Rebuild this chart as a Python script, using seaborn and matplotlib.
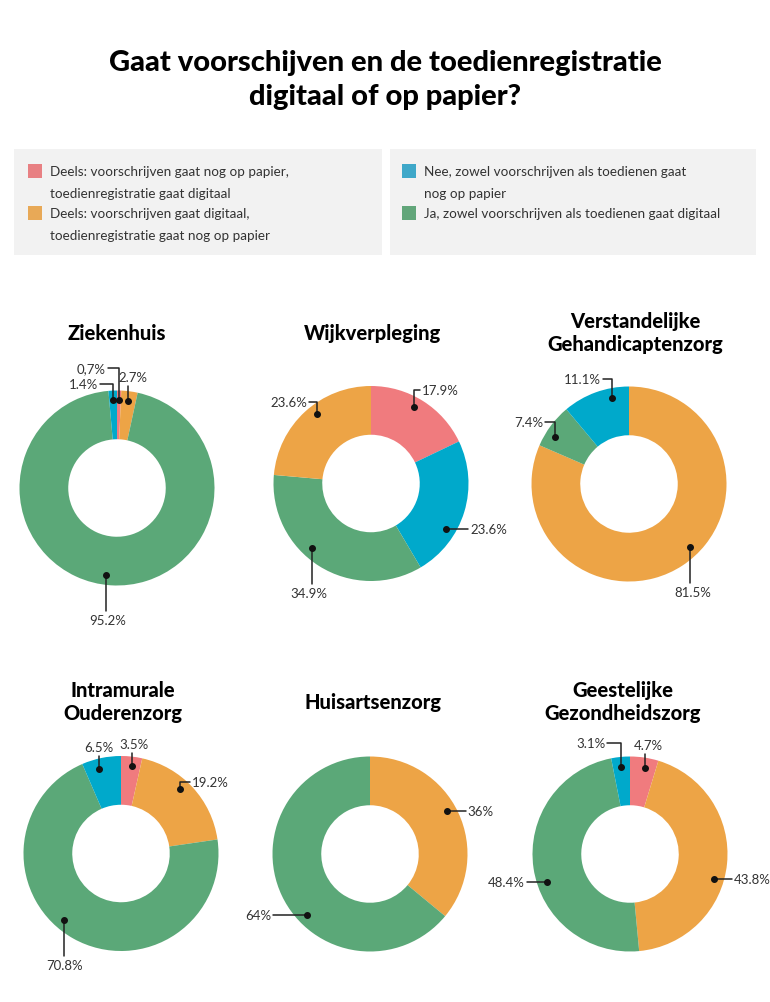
import numpy as np
import matplotlib
matplotlib.use("Agg")
import matplotlib.pyplot as plt
from matplotlib.patches import Rectangle
import seaborn as sns

sns.set_theme(style="white")
plt.rcParams['font.family'] = ['Lato', 'DejaVu Sans']

# legend categories (same order as the series below)
categories = [
    "Deels: voorschrijven gaat nog op papier,\ntoedienregistratie gaat digitaal",
    "Deels: voorschrijven gaat digitaal,\ntoedienregistratie gaat nog op papier",
    "Nee, zowel voorschrijven als toedienen gaat\nnog op papier",
    "Ja, zowel voorschrijven als toedienen gaat digitaal",
]
sectors = ["Ziekenhuis", "Wijkverpleging", "Verstandelijke\nGehandicaptenzorg",
           "Intramurale\nOuderenzorg", "Huisartsenzorg", "Geestelijke\nGezondheidszorg"]

# percentages per sector
deels_papier = [0.7, 17.9, 0, 3.5, 0, 4.7]        # pink
deels_digitaal = [2.7, 23.6, 81.5, 19.2, 36, 43.8]  # orange
nee_papier = [1.4, 23.6, 11.1, 6.5, 0, 3.1]       # blue
ja_digitaal = [95.2, 34.9, 7.4, 70.8, 64, 48.4]   # green
series = [deels_papier, deels_digitaal, nee_papier, ja_digitaal]

# slice order clockwise from 12 o'clock (index into series)
slice_order = [[0, 1, 3, 2], [0, 2, 3, 1], [0, 1, 3, 2],
               [0, 1, 3, 2], [0, 1, 3, 2], [0, 1, 3, 2]]

colors = sns.color_palette(["#F07B7E", "#EDA446", "#00A9CB", "#5BA878"])
legend_colors = sns.color_palette(["#E88083", "#E8A957", "#3FA8C9", "#62A67A"])

# layout (pixels)
centers = [(117, 489), (371, 484.5), (629, 485), (121, 854.5), (370, 855), (630, 855)]
title_pos = [(117, 333), (373, 333), (635, 333), (123, 702), (373, 702), (623, 702)]
R = 97.5
# per label: angle nudge (deg), horizontal leg, vertical leg, text shift
label_layout = [
    {0: (0, -11, -32, 0), 1: (0, 0, -15, 5), 3: (3.7, 0, 36, 2), 2: (0, -13, -16, 0)},
    {0: (-2.7, 6, -17, 0), 2: (14, 22, 0, 0), 3: (10, 0, 36, -3), 1: (4.5, -8, -12, 0)},
    {1: (-10.4, 0, 36, 3), 3: (-4, -10, -15, 0), 2: (8.8, -9, -19, 0)},
    {0: (0.6, 0, -13, 2), 1: (-4.7, 10, -7, 0), 3: (11.5, 0, 36, 1), 2: (-3, 0, -13, 0)},
    {1: (-3.8, 19, 0, 0), 3: (-19, -34, 0, 0)},
    {0: (1.5, 0, -14, 3), 1: (10.7, 18, 0, 0), 3: (-10, -20, 0, 0), 2: (0, -14, -24, 0)},
]


def fmt(v, i, k):
    s = f"{v:g}%"
    if i == 0 and k == 0:
        s = s.replace(".", ",")
    return s


fig = plt.figure(figsize=(7.7, 10.03), dpi=100)
ax = fig.add_axes([0, 0, 1, 1])

for i, name in enumerate(sectors):
    cx, cy = centers[i]
    idx = [k for k in slice_order[i] if series[k][i] > 0]
    vals = [series[k][i] for k in idx]
    ax.pie(vals, colors=[colors[k] for k in idx], startangle=-90, counterclock=True,
           center=(cx, cy), radius=R, frame=False,
           wedgeprops=dict(width=R * 0.5, linewidth=0))
    total = sum(vals)
    cum = 0
    for k, v in zip(idx, vals):
        mid = (cum + v / 2) / total * 360
        cum += v
        nudge, dx, dy, shift = label_layout[i][k]
        th = np.radians(mid + nudge)
        x0 = cx + 0.9 * R * np.sin(th)
        y0 = cy - 0.9 * R * np.cos(th)
        xe, ye = x0 + dx, y0 + dy
        ax.plot([x0, x0, xe], [y0, ye, ye], color="#222222", lw=1.1, zorder=5)
        ax.plot(x0, y0, "o", color="#111111", ms=4, zorder=6)
        txt = fmt(v, i, k)
        kw = dict(fontsize=9.5, color="#333333")
        if dx > 0:
            ax.text(xe + 2, ye, txt, ha="left", va="center", **kw)
        elif dx < 0:
            ax.text(xe - 2, ye, txt, ha="right", va="center", **kw)
        elif dy < 0:
            ax.text(x0 + shift, ye - 3, txt, ha="center", va="bottom", **kw)
        else:
            ax.text(x0 + shift, ye + 3, txt, ha="center", va="top", **kw)
    tx, ty = title_pos[i]
    ax.text(tx, ty, name, ha="center", va="center", fontsize=14.5,
            fontweight="black", color="black", linespacing=1.3)

# title
ax.text(385, 80, "Gaat voorschijven en de toedienregistratie\ndigitaal of op papier?",
        ha="center", va="center", fontsize=21, fontweight="black", color="black",
        linespacing=1.4)

# legend boxes
ax.add_patch(Rectangle((14, 150), 368, 106, color="#F2F2F2", lw=0, zorder=0))
ax.add_patch(Rectangle((390, 150), 366, 106, color="#F2F2F2", lw=0, zorder=0))
legend_pos = [(28, 165), (28, 207), (402, 165), (402, 207)]
for k, lab in enumerate(categories):
    lx, ly = legend_pos[k]
    ax.add_patch(Rectangle((lx, ly), 14, 14, color=legend_colors[k], lw=0, zorder=1))
    for j, line in enumerate(lab.split("\n")):
        ax.text(lx + 22, ly + 7 + 22 * j, line, ha="left", va="center",
                fontsize=9.7, color="#333333")

ax.set_xlim(0, 770)
ax.set_ylim(1003, 0)
ax.set_aspect("equal")
ax.axis("off")

fig.savefig("out.png", dpi=100, facecolor="white")
